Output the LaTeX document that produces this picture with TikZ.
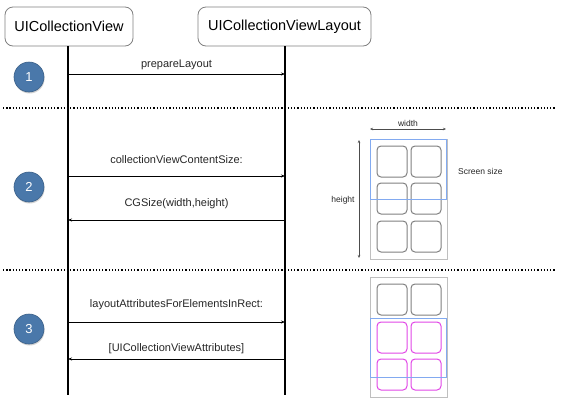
\documentclass[tikz,border=0pt]{standalone}
\usepackage{fontspec}
\setmainfont{Liberation Sans}
\usetikzlibrary{arrows.meta,shadows}

\definecolor{stepblue}{RGB}{74,120,170}
\definecolor{screenblue}{RGB}{130,170,240}
\definecolor{cellpink}{RGB}{225,70,230}

\tikzset{
  header/.style={draw=black!50,line width=0.8pt,rounded corners=8pt,minimum height=39pt,inner sep=0pt,font=\fontsize{14.5}{16}\selectfont},
  lifeline/.style={line width=1.2pt},
  msg/.style={line width=0.6pt,-{Stealth[length=4pt,width=3pt]}},
  msglabel/.style={font=\fontsize{11}{13}\selectfont,inner sep=0pt,text=black!85},
  stepmark/.style={circle,fill=stepblue,draw=stepblue!80!black,line width=0.6pt,minimum size=30pt,inner sep=0pt,text=white,font=\fontsize{13}{15}\selectfont,drop shadow={shadow xshift=0.6pt,shadow yshift=-1.5pt,opacity=0.35}},
  separator/.style={line width=1.3pt,dash pattern={on 1.3pt off 1.9pt}},
  phone/.style={draw=black!25,line width=0.8pt},
  screen/.style={draw=screenblue,line width=0.8pt},
  cell/.style={draw=black!50,line width=1pt,rounded corners=4pt},
  pinkcell/.style={draw=cellpink,line width=1pt,rounded corners=4pt},
  dim/.style={draw=black!70,line width=0.6pt,{Stealth[length=3pt,width=2.5pt]}-{Stealth[length=3pt,width=2.5pt]}},
  small/.style={font=\fontsize{8.5}{10}\selectfont,inner sep=0pt,text=black!85}
}

\begin{document}
\begin{tikzpicture}[x=1pt,y=1pt,yscale=-1]
\useasboundingbox (0,0) rectangle (563,402);

% Headers
\node[header,minimum width=128pt] (cv) at (69,26.5) {UICollectionView};
\node[header,minimum width=173pt] (layout) at (284.5,26.5) {UICollectionViewLayout};

% Lifelines
\coordinate (cvend) at (68,395);
\coordinate (layoutend) at (285,395);
\draw[lifeline] (cv.south -| cvend) -- (cvend);
\draw[lifeline] (layout.south -| layoutend) -- (layoutend);

% Separators
\draw[separator] (3,108) -- (555,108);
\draw[separator] (3,270) -- (555,270);

% Step markers
\node[stepmark] (one) at (29,77) {1};
\node[stepmark] (two) at (29,187) {2};
\node[stepmark] (three) at (29,329) {3};

% Messages
\coordinate (cva) at (68,74);    \coordinate (lya) at (285,74);
\coordinate (cvb) at (68,176);   \coordinate (lyb) at (285,176);
\coordinate (cvc) at (68,220);   \coordinate (lyc) at (285,220);
\coordinate (cvd) at (68,322);   \coordinate (lyd) at (285,322);
\coordinate (cve) at (68,359);   \coordinate (lye) at (285,359);
\draw[msg] (cva) -- (lya) node[msglabel,midway,above=4pt] {prepareLayout};
\draw[msg] (cvb) -- (lyb) node[msglabel,midway,above=12pt] {collectionViewContentSize:};
\draw[msg] (lyc) -- (cvc) node[msglabel,midway,above=11pt] {CGSize(width,height)};
\draw[msg] (cvd) -- (lyd) node[msglabel,midway,above=12pt] {layoutAttributesForElementsInRect:};
\draw[msg] (lye) -- (cve) node[msglabel,midway,above=5pt] {[UICollectionViewAttributes]};

% Content size sketch
\draw[phone] (370,139) rectangle (447,259);
\foreach \y in {146,183,221}{
  \draw[cell] (377,\y) rectangle ++(30,31);
  \draw[cell] (411,\y) rectangle ++(30,31);
}
\draw[screen] (370.5,139.5) rectangle (446.5,199);
\coordinate (wl) at (370,129); \coordinate (wr) at (446,129);
\draw[dim] (wl) -- (wr) node[small,midway,above=2pt] {width};
\coordinate (ht) at (359,140); \coordinate (hb) at (359,258);
\draw[dim] (ht) -- (hb);
\node[small] (htext) at (343,200) {height};
\node[small,anchor=west] (screensize) at (458,171) {Screen size};

% Visible rect sketch
\draw[phone] (370,277) rectangle (447,397);
\draw[cell] (377,284) rectangle ++(30,31);
\draw[cell] (411,284) rectangle ++(30,31);
\foreach \y in {322,359}{
  \draw[pinkcell] (377,\y) rectangle ++(30,31);
  \draw[pinkcell] (411,\y) rectangle ++(30,31);
}
\draw[screen] (370.5,318) rectangle (446.5,377);

\end{tikzpicture}
\end{document}
